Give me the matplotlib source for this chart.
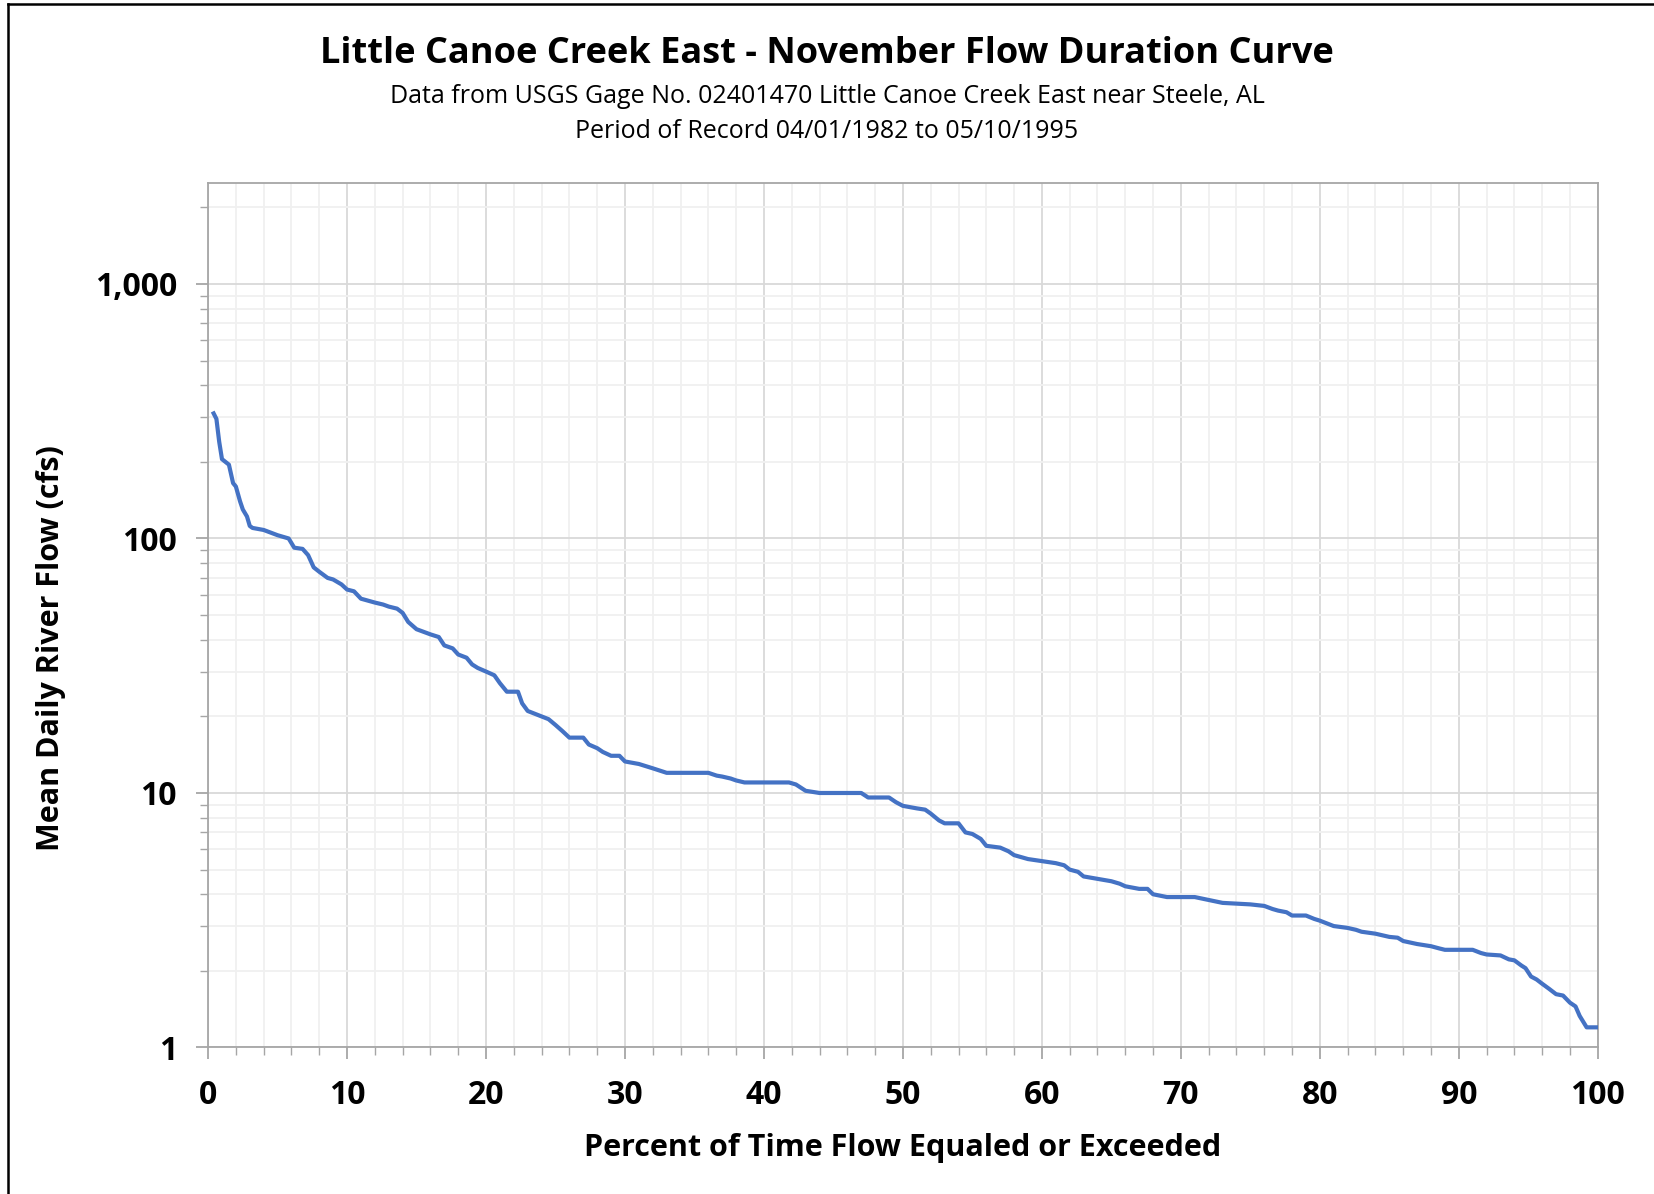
import matplotlib
matplotlib.use("Agg")
import matplotlib.pyplot as plt
from matplotlib.lines import Line2D
from matplotlib.ticker import FixedLocator, FuncFormatter, LogLocator, NullFormatter

# values
pct_exceeded = [0.4, 0.6, 0.8, 1.0, 1.5, 1.8, 2.0, 2.3, 2.5, 2.8, 3.0, 3.2, 4.0, 5.0, 5.8,
                6.2, 6.8, 7.2, 7.6, 8.0, 8.6, 9.0, 9.6, 10.0, 10.5, 11.0, 12.0, 12.6, 13.0,
                13.6, 14.0, 14.4, 15.0, 16.0, 16.6, 17.0, 17.6, 18.0, 18.6, 19.0, 19.4, 20.0,
                20.6, 21.0, 21.5, 22.0, 22.3, 22.6, 23.0, 24.0, 24.5, 25.0, 25.5, 26.0,
                27.0, 27.4, 28.0, 28.4, 29.0, 29.6, 30.0, 31.0, 32.0, 33.0, 36.0, 36.6,
                37.0, 37.6, 38.0, 38.6, 39.0, 41.8, 42.3, 43.0, 44.0, 47.0, 47.5, 49.0,
                49.5, 50.0, 51.0, 51.6, 52.0, 52.6, 53.0, 54.0, 54.5, 55.0, 55.6, 56.0,
                57.0, 57.6, 58.0, 59.0, 60.0, 61.0, 61.6, 62.0, 62.6, 63.0, 64.0, 65.0,
                65.6, 66.0, 67.0, 67.6, 68.0, 69.0, 71.0, 72.0, 73.0, 75.0, 76.0, 76.6,
                77.0, 77.6, 78.0, 79.0, 79.6, 80.0, 81.0, 82.0, 82.6, 83.0, 84.0, 85.0,
                85.6, 86.0, 87.0, 88.0, 88.6, 89.0, 91.0, 91.6, 92.0, 93.0, 93.6, 94.0,
                94.5, 94.8, 95.2, 95.6, 96.0, 96.5, 97.0, 97.5, 98.0, 98.4, 98.7, 99.2, 100.0]
flow_cfs = [310, 295, 240, 205, 195, 165, 160, 140, 130, 122, 112, 110, 108, 103, 100,
            92, 91, 86, 77, 74, 70, 69, 66, 63, 62, 58, 56, 55, 54,
            53, 51, 47, 44, 42, 41, 38, 37, 35, 34, 32, 31, 30,
            29, 27, 25, 25, 25, 22.5, 21, 20, 19.5, 18.5, 17.5, 16.5,
            16.5, 15.5, 15, 14.5, 14, 14, 13.3, 13, 12.5, 12, 12, 11.7,
            11.6, 11.4, 11.2, 11, 11, 11, 10.8, 10.2, 10, 10, 9.6, 9.6,
            9.2, 8.9, 8.7, 8.6, 8.3, 7.8, 7.6, 7.6, 7.0, 6.9, 6.6, 6.2,
            6.1, 5.9, 5.7, 5.5, 5.4, 5.3, 5.2, 5.0, 4.9, 4.7, 4.6, 4.5,
            4.4, 4.3, 4.2, 4.2, 4.0, 3.9, 3.9, 3.8, 3.7, 3.65, 3.6, 3.5,
            3.45, 3.4, 3.3, 3.3, 3.2, 3.15, 3.0, 2.95, 2.9, 2.85, 2.8, 2.72,
            2.7, 2.62, 2.55, 2.5, 2.45, 2.42, 2.42, 2.35, 2.32, 2.3, 2.22, 2.2,
            2.1, 2.05, 1.9, 1.85, 1.78, 1.7, 1.62, 1.6, 1.5, 1.45, 1.33, 1.2, 1.2]

title = "Little Canoe Creek East - November Flow Duration Curve"
subtitle = ("Data from USGS Gage No. 02401470 Little Canoe Creek East near Steele, AL\n"
            "Period of Record 04/01/1982 to 05/10/1995")

plt.rcParams['font.family'] = ['Open Sans', 'DejaVu Sans']

fig = plt.figure(figsize=(16.54, 11.94), dpi=100)
ax = fig.add_axes([0.1258, 0.1227, 0.8402, 0.7243])

ax.plot(pct_exceeded, flow_cfs, color='#4472C4', linewidth=3.0, zorder=3)

ax.set_yscale('log')
ax.set_xlim(0, 100)
ax.set_ylim(1, 2500)

ax.xaxis.set_major_locator(FixedLocator(range(0, 101, 10)))
ax.xaxis.set_minor_locator(FixedLocator([v for v in range(0, 101, 2) if v % 10]))
ax.yaxis.set_major_locator(FixedLocator([1, 10, 100, 1000]))
ax.yaxis.set_minor_locator(LogLocator(base=10, subs=range(2, 10)))
ax.yaxis.set_minor_formatter(NullFormatter())
ax.yaxis.set_major_formatter(FuncFormatter(lambda v, p: f"{int(v):,}"))

ax.grid(True, which='major', color='#D9D9D9', linewidth=1.3)
ax.grid(True, which='minor', color='#F0F0F0', linewidth=1.3)
ax.set_axisbelow(True)

for s in ax.spines.values():
    s.set_color('#A6A6A6')
    s.set_linewidth(1.3)

ax.tick_params(which='major', length=8.5, width=1.3, color='#A6A6A6', pad=14,
               labelsize=23)
ax.tick_params(which='minor', length=5.5, width=1.0, color='#A6A6A6')
for lab in ax.get_xticklabels() + ax.get_yticklabels():
    lab.set_fontweight('bold')

ax.set_xlabel("Percent of Time Flow Equaled or Exceeded", fontsize=22,
              fontweight='bold', labelpad=15)
# y label sits a little below the axes centre in the reference
fig.text(0.0306, 0.4576, "Mean Daily River Flow (cfs)", rotation=90, ha='center',
         va='center', fontsize=22, fontweight='bold')

fig.text(0.5, 0.9545, title, ha='center', va='center', fontsize=26, fontweight='bold')
fig.text(0.5, 0.9044, subtitle, ha='center', va='center', fontsize=18,
         linespacing=1.5)

# frame around the chart (only top and left visible in the crop)
fig.add_artist(Line2D([0.005, 0.005], [0, 0.997], color='black', linewidth=1.8,
                      transform=fig.transFigure))
fig.add_artist(Line2D([0.005, 1.0], [0.997, 0.997], color='black', linewidth=1.8,
                      transform=fig.transFigure))

fig.savefig("out.png", dpi=100)
